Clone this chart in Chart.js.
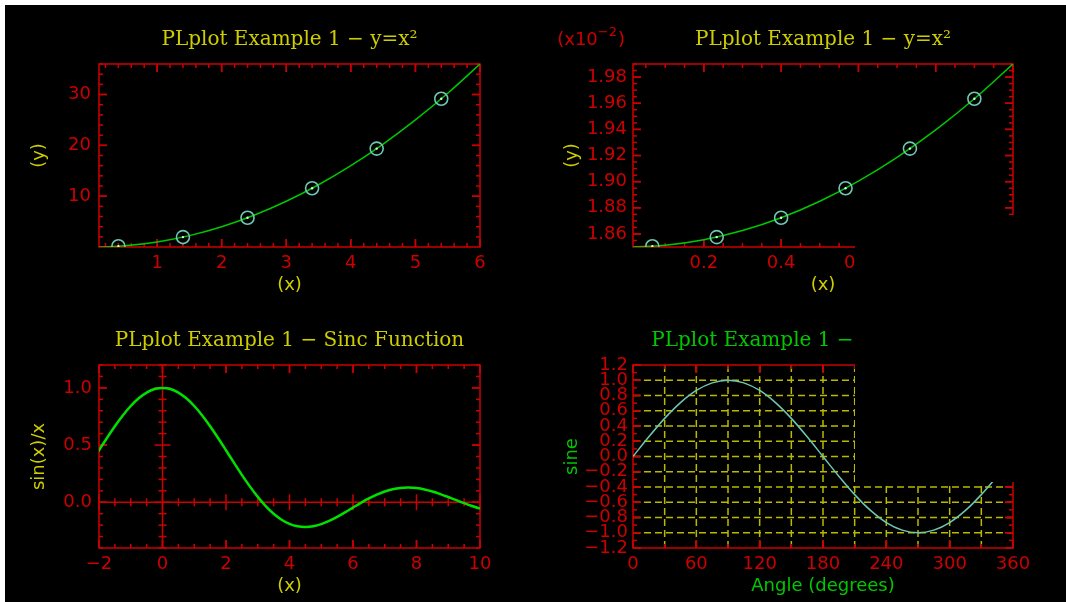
<!DOCTYPE html>
<html>
<head>
<meta charset="utf-8">
<script src="https://cdn.jsdelivr.net/npm/chart.js@4.4.0/dist/chart.umd.min.js"></script>
<style>
  html, body { margin: 0; padding: 0; background: #000; overflow: hidden; }
  #page { position: relative; width: 1066px; height: 602px; overflow: hidden; background: #000; }
  .strip { position: absolute; background: #fff; }
  #stripTop { left: 0; top: 0; width: 1066px; height: 5px; }
  #stripLeft { left: 0; top: 0; width: 5px; height: 602px; }
  canvas { position: absolute; }
  #tl { left: 0; top: 0; }
  #tr { left: 533px; top: 0; }
  #bl { left: 0; top: 301px; }
  #br { left: 533px; top: 301px; }
  /* the reference has a stale black patch over the right hand side */
  #blank { position: absolute; left: 855px; top: 215px; width: 211px; height: 267px; background: #000; }
</style>
</head>
<body>
<div id="page">
  <canvas id="tl" width="533" height="301"></canvas>
  <canvas id="tr" width="533" height="301"></canvas>
  <canvas id="bl" width="533" height="301"></canvas>
  <canvas id="br" width="533" height="301"></canvas>
  <div id="blank"></div>
  <div class="strip" id="stripTop"></div>
  <div class="strip" id="stripLeft"></div>
</div>
<script>
// plot 1: y = x^2
const sqX = [0.1, 0.5, 1, 1.5, 2, 2.5, 3, 3.5, 4, 4.5, 5, 5.5, 6];
const sqY = [0.01, 0.25, 1, 2.25, 4, 6.25, 9, 12.25, 16, 20.25, 25, 30.25, 36];
const sqPtsX = [0.4, 1.4, 2.4, 3.4, 4.4, 5.4];
const sqPtsY = [0.16, 1.96, 5.76, 11.56, 19.36, 29.16];
const sqXTicks = [1, 2, 3, 4, 5, 6];
const sqYTicks = [10, 20, 30];

// plot 2: same curve, y in units of 10^-2
const sq2X = [0.0167, 0.1, 0.2, 0.3, 0.4, 0.5, 0.6, 0.7, 0.8, 0.9, 1.0];
const sq2Y = [1.85004, 1.8514, 1.8556, 1.8626, 1.8724, 1.885, 1.9004, 1.9186, 1.9396, 1.9634, 1.99];
const sq2PtsX = [0.0667, 0.2333, 0.4, 0.5667, 0.7333, 0.9];
const sq2PtsY = [1.8506, 1.8576, 1.8724, 1.8950, 1.9253, 1.9634];
const sq2XTicks = [0.2, 0.4, 0.6, 0.8, 1.0];
const sq2YTicks = [1.86, 1.88, 1.90, 1.92, 1.94, 1.96, 1.98];

// plot 3: sinc
const sincX = [-2.5, -2.25, -2, -1.75, -1.5, -1.25, -1, -0.75, -0.5, -0.25, 0, 0.25, 0.5, 0.75, 1, 1.25, 1.5, 1.75,
  2, 2.25, 2.5, 2.75, 3, 3.25, 3.5, 3.75, 4, 4.25, 4.5, 4.75, 5, 5.25, 5.5, 5.75, 6, 6.25, 6.5, 6.75, 7, 7.25,
  7.5, 7.75, 8, 8.25, 8.5, 8.75, 9, 9.25, 9.5, 9.75, 10, 10.25];
const sincY = [0.23939, 0.34581, 0.45465, 0.56228, 0.66500, 0.75919, 0.84147, 0.90885, 0.95885, 0.98962, 1,
  0.98962, 0.95885, 0.90885, 0.84147, 0.75919, 0.66500, 0.56228, 0.45465, 0.34581, 0.23939, 0.13879, 0.04704,
  -0.03329, -0.10022, -0.15242, -0.18920, -0.21059, -0.21723, -0.21038, -0.19178, -0.16360, -0.12828, -0.08841,
  -0.04657, -0.00531, 0.03310, 0.06667, 0.09386, 0.11353, 0.12507, 0.12833, 0.12367, 0.11183, 0.09394, 0.07140,
  0.04579, 0.01880, -0.00791, -0.03277, -0.05440, -0.07168];
const sincXTicks = [-2, 0, 2, 4, 6, 8, 10];
const sincYTicks = [0, 0.5, 1];

// plot 4: sine in degrees
const sineX = [0, 15, 30, 45, 60, 75, 90, 105, 120, 135, 150, 165, 180, 195, 210, 225, 240, 255, 270, 285, 300, 315, 330, 345, 360];
const sineY = [0, 0.2588, 0.5, 0.7071, 0.8660, 0.9659, 1, 0.9659, 0.8660, 0.7071, 0.5, 0.2588, 0,
  -0.2588, -0.5, -0.7071, -0.8660, -0.9659, -1, -0.9659, -0.8660, -0.7071, -0.5, -0.2588, 0];
const sineXTicks = [0, 60, 120, 180, 240, 300, 360];
const sineYTicks = [-1.2, -1.0, -0.8, -0.6, -0.4, -0.2, 0, 0.2, 0.4, 0.6, 0.8, 1.0, 1.2];

const RED = 'rgb(205,0,0)';
const YELLOW = 'rgb(205,205,0)';
const GREEN = 'rgb(0,200,0)';
const AQUA = 'rgb(110,200,180)';
const GRIDY = 'rgb(185,185,0)';
const TICK_FONT = { family: 'DejaVu Sans', size: 18 };
const TITLE_FONT = { family: 'DejaVu Serif', size: 20, weight: 'normal' };

const pts = (xs, ys) => xs.map((x, i) => ({ x: x, y: ys[i] }));
const fmt = dec => v => v.toFixed(dec).replace('-', '\u2212');

function multiples(min, max, step) {
  const out = [];
  const eps = step * 1e-6;
  for (let k = Math.ceil((min - eps) / step); k * step <= max + eps; k++) out.push(k * step);
  return out;
}

// PLplot style box: frame, inward ticks on all sides, optional grid and zero axes
const plFrame = {
  id: 'plframe',
  beforeDatasetsDraw(chart, args, o) {
    const { ctx, chartArea: a, scales: { x, y } } = chart;
    const seg = (x1, y1, x2, y2) => { ctx.beginPath(); ctx.moveTo(x1, y1); ctx.lineTo(x2, y2); ctx.stroke(); };
    const near = (v, arr, step) => arr.some(m => Math.abs(m - v) < step * 1e-3);
    const majX = x.ticks.map(t => t.value), majY = y.ticks.map(t => t.value);
    ctx.save();
    if (o.gridX) {
      ctx.strokeStyle = GRIDY; ctx.lineWidth = 1.5; ctx.setLineDash([7, 4]);
      multiples(x.min, x.max, o.gridX).forEach(v => {
        if (near(v, [x.min, x.max], o.gridX)) return;
        const px = x.getPixelForValue(v); seg(px, a.bottom, px, a.top);
      });
      multiples(y.min, y.max, o.gridY).forEach(v => {
        if (near(v, [y.min, y.max], o.gridY)) return;
        const py = y.getPixelForValue(v); seg(a.left, py, a.right, py);
      });
      ctx.setLineDash([]);
    }
    ctx.strokeStyle = RED; ctx.lineWidth = 1.5;
    ctx.strokeRect(a.left, a.top, a.width, a.height);
    const MAJ = 8, MIN = 4;
    multiples(x.min, x.max, o.xMinor).forEach(v => {
      const px = x.getPixelForValue(v), l = near(v, majX, o.xMinor) ? MAJ : MIN;
      seg(px, a.bottom, px, a.bottom - l); seg(px, a.top, px, a.top + l);
      if (o.zero) { const p0 = y.getPixelForValue(0); seg(px, p0 - l, px, p0 + l); }
    });
    majX.forEach(v => { const px = x.getPixelForValue(v); seg(px, a.bottom, px, a.bottom - MAJ); seg(px, a.top, px, a.top + MAJ); });
    multiples(y.min, y.max, o.yMinor).forEach(v => {
      const py = y.getPixelForValue(v), l = near(v, majY, o.yMinor) ? MAJ : MIN;
      seg(a.left, py, a.left + l, py); seg(a.right, py, a.right - l, py);
      if (o.zero) { const p0 = x.getPixelForValue(0); seg(p0 - l, py, p0 + l, py); }
    });
    majY.forEach(v => { const py = y.getPixelForValue(v); seg(a.left, py, a.left + MAJ, py); seg(a.right, py, a.right - MAJ, py); });
    if (o.zero) {
      const px = x.getPixelForValue(0), py = y.getPixelForValue(0);
      seg(px, a.top, px, a.bottom); seg(a.left, py, a.right, py);
    }
    ctx.restore();
  },
  afterDraw(chart, args, o) {
    if (!o.exponent) return;
    // "(x10^-2)" scale note, superscript drawn smaller and raised
    const { ctx, chartArea: a } = chart;
    ctx.save();
    ctx.fillStyle = RED; ctx.textBaseline = 'middle'; ctx.textAlign = 'left';
    const big = '18px "DejaVu Sans"', small = '13px "DejaVu Sans"';
    ctx.font = big; const w1 = ctx.measureText('(x10').width, w3 = ctx.measureText(')').width;
    ctx.font = small; const w2 = ctx.measureText(o.exponent).width;
    let x0 = a.left - 8 - (w1 + w2 + w3 + 1);
    ctx.font = big; ctx.fillText('(x10', x0, 40);
    ctx.font = small; ctx.fillText(o.exponent, x0 + w1, 33);
    ctx.font = big; ctx.fillText(')', x0 + w1 + w2 + 1, 40);
    ctx.restore();
  }
};

function scaleOpts(pos, min, max, ticks, dec, title, titleColor, size, pad) {
  const left = pos === 'left';
  return {
    type: 'linear', position: pos, min: min, max: max,
    grid: { display: false, drawTicks: false }, border: { display: false },
    afterBuildTicks: s => { s.ticks = ticks.map(v => ({ value: v })); },
    afterFit: s => { if (left) s.width = size; else s.height = size; },
    ticks: { color: RED, font: TICK_FONT, padding: pad, autoSkip: false, maxRotation: 0, minRotation: 0, callback: fmt(dec) },
    title: { display: true, text: title, color: titleColor, font: TICK_FONT, padding: left ? { top: 29 } : { bottom: 5 } }
  };
}

function plot(id, c) {
  return new Chart(document.getElementById(id), {
    type: 'scatter',
    data: { datasets: c.datasets },
    options: {
      responsive: false, animation: false, events: [], devicePixelRatio: 1,
      layout: { padding: { left: 0, right: 53, top: 0, bottom: 0 } },
      plugins: {
        legend: { display: false }, tooltip: { enabled: false },
        title: { display: true, text: c.title, color: c.titleColor, font: TITLE_FONT, fullSize: false, padding: { top: 28, bottom: 12 } },
        plframe: c.frame
      },
      scales: { x: c.x, y: c.y }
    },
    plugins: [plFrame]
  });
}

const curve = (data, color, width, extra) => Object.assign({ data: data, showLine: true, borderColor: color, borderWidth: width, pointRadius: 0, fill: false }, extra || {});
const rings = data => ({ data: data, pointRadius: 6.5, pointBorderWidth: 1.6, pointBorderColor: AQUA, pointBackgroundColor: 'rgba(0,0,0,0)' });
const dots = data => ({ data: data, pointRadius: 1.2, pointBorderWidth: 0, pointBackgroundColor: 'rgb(200,255,230)' });

plot('tl', {
  title: 'PLplot Example 1 \u2212 y=x\u00b2', titleColor: YELLOW,
  datasets: [dots(pts(sqPtsX, sqPtsY)), rings(pts(sqPtsX, sqPtsY)), curve(pts(sqX, sqY), GREEN, 1.5, { cubicInterpolationMode: 'monotone' })],
  x: scaleOpts('bottom', 0.1, 6, sqXTicks, 0, '(x)', YELLOW, 54, 6),
  y: scaleOpts('left', 0.01, 36, sqYTicks, 0, '(y)', YELLOW, 99, 8),
  frame: { xMinor: 0.2, yMinor: 2 }
});

plot('tr', {
  title: 'PLplot Example 1 \u2212 y=x\u00b2', titleColor: YELLOW,
  datasets: [dots(pts(sq2PtsX, sq2PtsY)), rings(pts(sq2PtsX, sq2PtsY)), curve(pts(sq2X, sq2Y), GREEN, 1.5, { cubicInterpolationMode: 'monotone' })],
  x: scaleOpts('bottom', 0.016667, 1, sq2XTicks, 1, '(x)', YELLOW, 54, 6),
  y: scaleOpts('left', 1.85004, 1.99, sq2YTicks, 2, '(y)', YELLOW, 100, 6),
  frame: { xMinor: 0.05, yMinor: 0.005, exponent: '\u22122' }
});

plot('bl', {
  title: 'PLplot Example 1 \u2212 Sinc Function', titleColor: YELLOW,
  datasets: [curve(pts(sincX, sincY), 'rgb(0,225,0)', 2.5, { tension: 0.3 })],
  x: scaleOpts('bottom', -2, 10, sincXTicks, 0, '(x)', YELLOW, 54, 6),
  y: scaleOpts('left', -0.4, 1.2, sincYTicks, 1, 'sin(x)/x', YELLOW, 99, 7),
  frame: { xMinor: 0.5, yMinor: 0.1, zero: true }
});

plot('br', {
  title: 'PLplot Example 1 \u2212 Sine function', titleColor: GREEN,
  datasets: [curve(pts(sineX, sineY), AQUA, 1.5, { cubicInterpolationMode: 'monotone' })],
  x: scaleOpts('bottom', 0, 360, sineXTicks, 0, 'Angle (degrees)', GREEN, 54, 6),
  y: scaleOpts('left', -1.2, 1.2, sineYTicks, 1, 'sine', GREEN, 100, 5),
  frame: { xMinor: 30, yMinor: 0.1, gridX: 30, gridY: 0.2 }
});
</script>
</body>
</html>
